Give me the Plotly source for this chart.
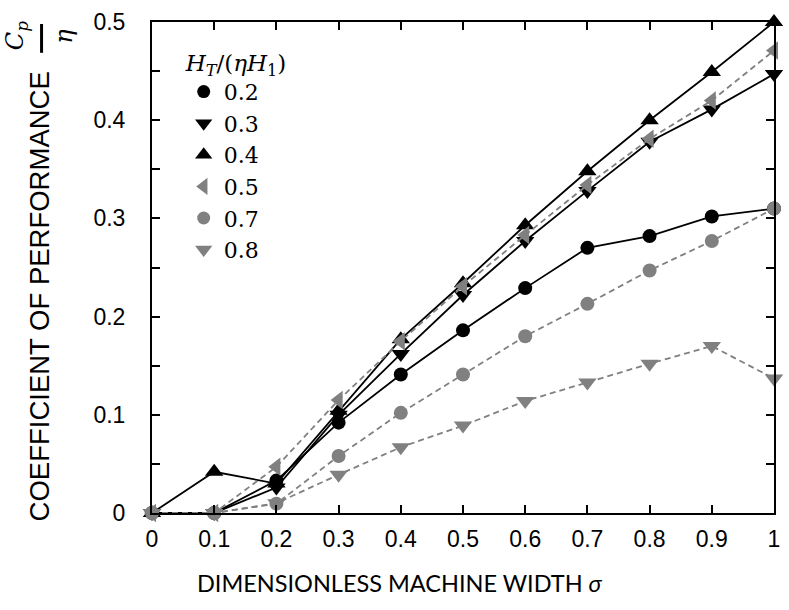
import plotly.graph_objects as go

sigma = [0, 0.1, 0.2, 0.3, 0.4, 0.5, 0.6, 0.7, 0.8, 0.9, 1.0]
labels = ["0.2", "0.3", "0.4", "0.5", "0.7", "0.8"]
s02 = [0, 0, 0.033, 0.092, 0.141, 0.186, 0.229, 0.270, 0.282, 0.302, 0.310]
s03 = [0, 0, 0.026, 0.100, 0.162, 0.222, 0.277, 0.328, 0.378, 0.411, 0.447]
s04 = [0, 0.042, 0.030, 0.104, 0.177, 0.234, 0.293, 0.348, 0.400, 0.449, 0.500]
s05 = [0, 0, 0.047, 0.115, 0.175, 0.231, 0.283, 0.334, 0.381, 0.420, 0.471]
s07 = [0, 0, 0.0095, 0.058, 0.102, 0.141, 0.180, 0.213, 0.247, 0.277, 0.310]
s08 = [0, 0, 0.010, 0.039, 0.067, 0.089, 0.114, 0.133, 0.152, 0.170, 0.137]
series = [s02, s03, s04, s05, s07, s08]
xtick_vals = [0, 0.1, 0.2, 0.3, 0.4, 0.5, 0.6, 0.7, 0.8, 0.9, 1.0]
xtick_text = ["0", "0.1", "0.2", "0.3", "0.4", "0.5", "0.6", "0.7", "0.8", "0.9", "1"]
ytick_vals = [0, 0.1, 0.2, 0.3, 0.4, 0.5]
ytick_text = ["0", "0.1", "0.2", "0.3", "0.4", "0.5"]

BLACK = "#000000"
GRAY = "#808080"
colors = [BLACK, BLACK, BLACK, GRAY, GRAY, GRAY]
symbols = ["circle", "triangle-down", "triangle-up", "triangle-left", "circle", "triangle-down"]
dashes = ["solid", "solid", "solid", "6px,4px", "6px,4px", "6px,4px"]
sizes = [14, 16, 16, 16, 14, 16]

fig = go.Figure()
for lab, ys, c, sym, d, sz in zip(labels, series, colors, symbols, dashes, sizes):
    fig.add_trace(go.Scatter(
        x=sigma, y=ys, mode="lines+markers", showlegend=False,
        line=dict(color=c, width=1.8, dash=d),
        marker=dict(symbol=sym, size=sz, color=c, line=dict(width=0)),
        cliponaxis=False,
    ))
for lab, c, sym, sz in zip(labels, colors, symbols, sizes):
    fig.add_trace(go.Scatter(
        x=[None], y=[None], mode="markers", name=lab,
        marker=dict(symbol=sym, size=sz - 1, color=c, line=dict(width=0)),
    ))

W, H = 789, 610
L, R, T, B = 152, 9, 19, 97
pw, ph = W - L - R, H - T - B

def px2x(px):
    return (px - L) / pw

def py2y(py):
    return (H - B - py) / ph

fig.update_layout(
    width=W, height=H,
    margin=dict(l=L, r=R, t=T, b=B),
    paper_bgcolor="white", plot_bgcolor="white",
    showlegend=True,
    legend=dict(
        x=px2x(184), y=py2y(38), xanchor="left", yanchor="top",
        bgcolor="rgba(0,0,0,0)",
        font=dict(family="DejaVu Serif", size=22, color="black"),
        title=dict(text="<i>H<sub>T</sub></i>/(<i>ηH</i><sub>1</sub>)",
                   font=dict(family="DejaVu Serif", size=23, color="black")),
        tracegroupgap=0, itemwidth=30,
    ),
    xaxis=dict(
        range=[0, 1], showgrid=False, zeroline=False,
        showline=True, linecolor="black", linewidth=2, mirror="allticks",
        ticks="inside", ticklen=8, tickwidth=1.5, tickcolor="black",
        tickfont=dict(family="Liberation Sans", size=23, color="black"),
        tickvals=xtick_vals, ticktext=xtick_text,
        ticklabelstandoff=4,
    ),
    yaxis=dict(
        range=[0, 0.5], showgrid=False, zeroline=False,
        showline=True, linecolor="black", linewidth=2, mirror="allticks",
        ticks="inside", ticklen=8, tickwidth=1.5, tickcolor="black",
        tickfont=dict(family="Liberation Sans", size=23, color="black"),
        tickvals=ytick_vals, ticktext=ytick_text,
        minor=dict(dtick=0.05, tick0=0, ticks="inside", ticklen=8, tickwidth=1.5,
                   tickcolor="black", showgrid=False),
        ticklabelstandoff=20,
    ),
)

fig.add_annotation(
    text="DIMENSIONLESS MACHINE WIDTH <i>σ</i>", xref="paper", yref="paper",
    x=px2x(402), y=0, yshift=-70, xanchor="center", yanchor="middle",
    showarrow=False, font=dict(family="Lato", size=23.5, color="black"),
)
fig.add_annotation(
    text="COEFFICIENT OF PERFORMANCE", xref="paper", yref="paper",
    x=px2x(38), y=py2y(295), xanchor="center", yanchor="middle", textangle=-90,
    showarrow=False, font=dict(family="Liberation Sans", size=27.5, color="black"),
)
fig.add_annotation(
    text="<i>C<sub>p</sub></i>", xref="paper", yref="paper",
    x=px2x(16), y=py2y(33), xanchor="center", yanchor="middle", textangle=-90,
    showarrow=False, font=dict(family="DejaVu Serif", size=24, color="black"),
)
fig.add_annotation(
    text="<i>η</i>", xref="paper", yref="paper",
    x=px2x(63), y=py2y(33), xanchor="center", yanchor="middle", textangle=-90,
    showarrow=False, font=dict(family="DejaVu Serif", size=24, color="black"),
)
fig.add_shape(type="line", xref="paper", yref="paper",
              x0=px2x(40.5), x1=px2x(40.5), y0=py2y(21), y1=py2y(50),
              line=dict(color="black", width=3))

fig.write_html("out.html", config={"displayModeBar": False},
               post_script="document.body.style.margin='0';document.body.style.overflow='hidden';")
